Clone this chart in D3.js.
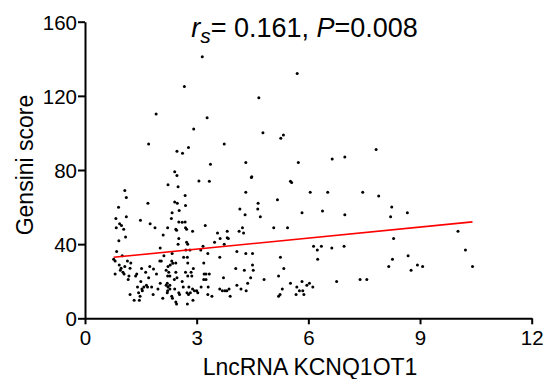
<!DOCTYPE html>
<html><head><meta charset="utf-8">
<script src="https://cdn.jsdelivr.net/npm/d3@7"></script>
<style>body{margin:0;background:#fff}svg{display:block}text{font-family:"Liberation Sans",Arial,sans-serif}</style>
</head><body>
<script>
const xTicks=[0,3,6,9,12];
const yTicks=[0,40,80,120,160];
const xVals=[3.15,5.70,2.67,4.67,1.91,3.28,2.92,4.78,5.26,5.33,1.71,3.74,7.82,2.78,2.47,2.62,6.64,6.98,5.73,4.32,3.37,2.41,2.47,4.48,4.47,2.23,2.50,3.06,3.34,5.52,5.55,1.07,1.11,2.69,4.32,6.05,6.52,7.46,7.89,5.17,1.69,2.41,2.48,2.70,0.90,4.16,4.65,4.64,2.53,2.34,8.24,6.38,5.83,8.66,4.30,6.98,4.71,8.21,0.83,1.11,2.32,1.49,2.52,2.61,2.69,0.93,0.98,1.75,1.88,2.22,2.70,2.73,0.84,1.04,2.89,3.23,5.07,5.44,4.23,4.14,4.26,2.46,2.44,3.82,3.56,1.09,0.91,2.10,2.52,3.63,3.85,3.82,10.02,8.29,3.48,3.74,2.50,2.73,2.76,3.17,3.11,2.02,6.14,6.24,6.35,6.63,6.96,10.22,0.85,1.00,0.77,0.81,4.08,4.32,4.50,3.30,2.71,2.82,2.34,2.12,2.65,2.75,3.62,5.25,6.25,8.26,8.68,1.14,1.23,2.01,2.05,2.33,3.19,0.92,0.97,1.07,1.21,1.52,1.74,1.84,2.23,2.29,2.36,2.44,2.76,2.91,4.50,4.52,4.05,4.28,5.34,8.16,8.93,9.07,10.41,0.95,1.02,0.81,1.05,1.63,1.92,2.18,2.25,2.44,2.70,2.85,3.34,3.20,3.25,8.76,1.18,1.36,1.39,1.71,2.22,2.28,2.40,2.47,2.76,2.87,3.72,4.45,5.20,4.81,6.76,7.39,7.57,1.16,1.50,2.02,2.18,2.23,2.28,2.21,2.61,3.19,3.25,4.37,5.52,5.83,6.03,6.12,5.96,5.69,5.76,5.85,1.41,1.53,1.58,1.54,1.68,1.79,1.65,1.96,2.28,2.22,2.41,2.64,2.79,2.89,2.74,2.78,2.83,2.94,3.00,3.03,3.12,3.31,3.62,3.69,3.76,3.81,3.87,4.08,4.19,4.33,5.30,5.24,5.20,5.67,5.88,1.21,1.44,1.48,1.32,1.46,1.83,2.09,2.21,2.33,2.35,2.44,2.46,2.54,2.52,2.75,2.90,3.30,3.41,3.90];
const yVals=[141.1,132.1,125.1,119.0,110.2,108.2,102.1,100.1,97.1,98.9,94.0,94.0,91.0,92.2,90.1,89.0,85.9,87.0,84.1,84.1,83.1,79.1,77.1,76.4,75.9,72.1,71.0,74.1,73.9,73.9,73.2,69.0,65.1,66.2,68.0,68.0,68.0,68.0,66.0,64.0,62.0,62.7,62.0,60.9,59.9,59.0,62.0,59.0,58.1,57.0,60.0,57.9,57.0,57.0,55.9,55.9,54.8,54.8,53.9,54.8,53.9,52.9,52.0,51.8,52.0,51.0,50.0,51.0,48.9,48.9,48.9,48.0,48.9,48.0,46.9,50.0,48.9,48.9,48.9,46.9,46.0,47.5,48.0,46.9,46.0,43.9,41.9,44.9,43.0,43.0,43.0,43.5,46.9,43.0,41.0,39.9,39.9,41.0,39.9,38.8,36.9,37.9,38.8,36.9,38.8,37.9,38.8,36.9,36.0,33.8,31.8,30.9,36.0,34.9,34.9,34.9,36.9,36.9,34.9,33.8,32.9,32.9,32.9,32.9,31.8,31.8,33.8,30.9,29.8,30.9,30.9,30.9,29.8,28.8,27.0,27.9,27.0,26.8,27.9,26.6,27.9,28.8,29.7,29.8,29.8,26.8,28.8,25.9,26.8,25.9,26.8,27.9,28.8,27.9,27.9,25.9,24.8,23.9,23.9,24.8,23.9,25.9,24.8,24.8,24.8,24.8,23.9,23.9,23.9,25.9,22.8,22.8,23.9,21.9,22.8,22.8,20.9,21.9,22.8,22.8,21.9,21.9,22.8,20.9,19.8,20.9,20.9,20.9,19.8,18.9,17.8,16.9,17.8,18.9,19.8,20.9,20.9,18.9,18.9,19.8,18.9,16.9,17.8,16.9,14.9,14.9,16.9,15.8,16.9,14.9,16.9,16.9,17.8,15.8,15.8,14.9,15.8,16.9,16.9,15.8,13.8,12.8,13.8,14.9,14.9,13.8,16.9,16.9,15.8,14.9,14.9,14.9,15.8,17.8,15.8,14.9,15.8,12.8,11.9,12.8,12.8,12.8,13.8,11.9,9.7,9.7,12.8,10.8,13.8,11.9,10.8,8.8,7.7,12.8,13.8,7.7,9.7,12.8,11.9,11.9];
const fitX=[0.77,10.41];
const fitY=[32.9,52.0];

const W=552,H=379;
const svg=d3.select("body").append("svg").attr("width",W).attr("height",H);
const x=d3.scaleLinear().domain([0,12]).range([85,531.7]);
const y=d3.scaleLinear().domain([0,160]).range([318.3,21.7]);

const xa=svg.append("g").attr("transform","translate(0,318.3)")
  .call(d3.axisBottom(x).tickValues(xTicks).tickSize(6).tickSizeOuter(0).tickFormat(d3.format("d")));
const ya=svg.append("g").attr("transform","translate(85,0)")
  .call(d3.axisLeft(y).tickValues(yTicks).tickSize(7).tickSizeOuter(0).tickFormat(d3.format("d")));
[xa,ya].forEach(a=>{
  a.selectAll("path").attr("stroke","#000").attr("stroke-width",2);
  a.selectAll("line").attr("stroke","#000").attr("stroke-width",2);
  a.selectAll("text").attr("font-family","Liberation Sans, Arial, sans-serif").attr("font-size",20.5).attr("fill","#000");
});
xa.selectAll("text").attr("y",27).attr("dy",0);
ya.selectAll("text").attr("x",-8).attr("dy","0.36em");

svg.append("g").selectAll("circle").data(xVals.map((v,i)=>[v,yVals[i]])).join("circle")
  .attr("cx",d=>x(d[0])).attr("cy",d=>y(d[1])).attr("r",1.5).attr("fill","#000");

svg.append("line").attr("x1",x(fitX[0])).attr("y1",y(fitY[0])).attr("x2",x(fitX[1])).attr("y2",y(fitY[1]))
  .attr("stroke","#ff0000").attr("stroke-width",1.6);

const t=svg.append("text").attr("x",304.5).attr("y",37).attr("text-anchor","middle").attr("font-size",27).attr("fill","#000");
t.append("tspan").attr("font-style","italic").text("r");
t.append("tspan").attr("font-style","italic").attr("font-size",21).attr("dy",6).text("s");
t.append("tspan").attr("dy",-6).text("= 0.161, ");
t.append("tspan").attr("font-style","italic").text("P");
t.append("tspan").text("=0.008");

svg.append("text").attr("x",310).attr("y",375).attr("text-anchor","middle").attr("font-size",23).text("LncRNA KCNQ1OT1");
svg.append("text").attr("transform","translate(33,165) rotate(-90)").attr("text-anchor","middle").attr("font-size",23).text("Gensini score");
</script>
</body></html>
